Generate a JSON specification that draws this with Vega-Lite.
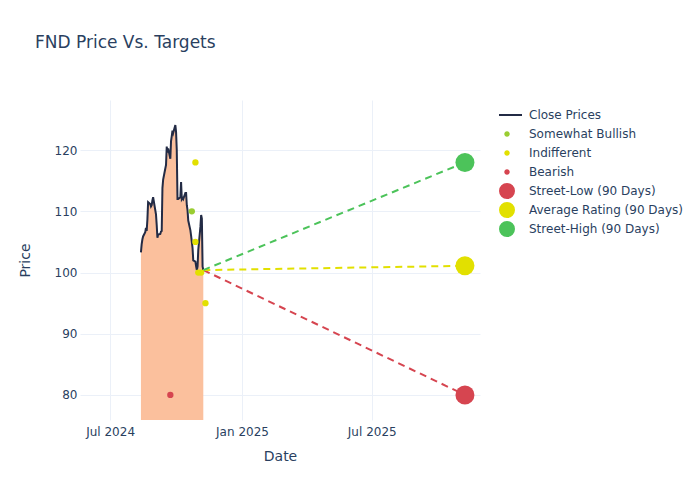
{
  "$schema": "https://vega.github.io/schema/vega-lite/v6.json",
  "width": 400,
  "height": 320,
  "autosize": {"type": "none"},
  "padding": {"left": 80, "top": 100, "right": 220, "bottom": 80},
  "background": "white",
  "title": {
    "text": "FND Price Vs. Targets",
    "anchor": "start",
    "frame": "group",
    "dx": -45,
    "offset": 48,
    "fontSize": 17,
    "fontWeight": "normal",
    "color": "#2a3f5f",
    "font": "DejaVu Sans"
  },
  "datasets": {
    "prices": [
      {"date": "2024-08-13", "close": 103.3, "series": "Close Prices"},
      {"date": "2024-08-14", "close": 104.6, "series": "Close Prices"},
      {"date": "2024-08-15", "close": 105.4, "series": "Close Prices"},
      {"date": "2024-08-16", "close": 105.9, "series": "Close Prices"},
      {"date": "2024-08-19", "close": 106.6, "series": "Close Prices"},
      {"date": "2024-08-20", "close": 107.3, "series": "Close Prices"},
      {"date": "2024-08-21", "close": 106.8, "series": "Close Prices"},
      {"date": "2024-08-22", "close": 108.6, "series": "Close Prices"},
      {"date": "2024-08-23", "close": 111.5, "series": "Close Prices"},
      {"date": "2024-08-26", "close": 111.2, "series": "Close Prices"},
      {"date": "2024-08-27", "close": 110.8, "series": "Close Prices"},
      {"date": "2024-08-28", "close": 111.0, "series": "Close Prices"},
      {"date": "2024-08-29", "close": 111.8, "series": "Close Prices"},
      {"date": "2024-08-30", "close": 112.3, "series": "Close Prices"},
      {"date": "2024-09-03", "close": 109.5, "series": "Close Prices"},
      {"date": "2024-09-04", "close": 107.8, "series": "Close Prices"},
      {"date": "2024-09-05", "close": 105.7, "series": "Close Prices"},
      {"date": "2024-09-06", "close": 106.2, "series": "Close Prices"},
      {"date": "2024-09-09", "close": 106.3, "series": "Close Prices"},
      {"date": "2024-09-10", "close": 106.7, "series": "Close Prices"},
      {"date": "2024-09-11", "close": 106.8, "series": "Close Prices"},
      {"date": "2024-09-12", "close": 113.8, "series": "Close Prices"},
      {"date": "2024-09-13", "close": 115.2, "series": "Close Prices"},
      {"date": "2024-09-16", "close": 117.0, "series": "Close Prices"},
      {"date": "2024-09-17", "close": 117.6, "series": "Close Prices"},
      {"date": "2024-09-18", "close": 120.6, "series": "Close Prices"},
      {"date": "2024-09-19", "close": 119.6, "series": "Close Prices"},
      {"date": "2024-09-20", "close": 120.3, "series": "Close Prices"},
      {"date": "2024-09-23", "close": 118.6, "series": "Close Prices"},
      {"date": "2024-09-24", "close": 121.5, "series": "Close Prices"},
      {"date": "2024-09-25", "close": 122.3, "series": "Close Prices"},
      {"date": "2024-09-26", "close": 123.2, "series": "Close Prices"},
      {"date": "2024-09-27", "close": 122.8, "series": "Close Prices"},
      {"date": "2024-09-30", "close": 124.1, "series": "Close Prices"},
      {"date": "2024-10-01", "close": 123.0, "series": "Close Prices"},
      {"date": "2024-10-02", "close": 120.0, "series": "Close Prices"},
      {"date": "2024-10-03", "close": 112.0, "series": "Close Prices"},
      {"date": "2024-10-04", "close": 112.0, "series": "Close Prices"},
      {"date": "2024-10-07", "close": 112.3, "series": "Close Prices"},
      {"date": "2024-10-08", "close": 114.8, "series": "Close Prices"},
      {"date": "2024-10-09", "close": 112.0, "series": "Close Prices"},
      {"date": "2024-10-10", "close": 112.2, "series": "Close Prices"},
      {"date": "2024-10-11", "close": 112.0, "series": "Close Prices"},
      {"date": "2024-10-14", "close": 113.0, "series": "Close Prices"},
      {"date": "2024-10-15", "close": 113.0, "series": "Close Prices"},
      {"date": "2024-10-16", "close": 111.0, "series": "Close Prices"},
      {"date": "2024-10-17", "close": 110.2, "series": "Close Prices"},
      {"date": "2024-10-18", "close": 108.5, "series": "Close Prices"},
      {"date": "2024-10-21", "close": 106.9, "series": "Close Prices"},
      {"date": "2024-10-22", "close": 106.0, "series": "Close Prices"},
      {"date": "2024-10-23", "close": 105.0, "series": "Close Prices"},
      {"date": "2024-10-24", "close": 104.0, "series": "Close Prices"},
      {"date": "2024-10-25", "close": 102.0, "series": "Close Prices"},
      {"date": "2024-10-28", "close": 101.8, "series": "Close Prices"},
      {"date": "2024-10-29", "close": 101.0, "series": "Close Prices"},
      {"date": "2024-10-30", "close": 100.4, "series": "Close Prices"},
      {"date": "2024-10-31", "close": 101.0, "series": "Close Prices"},
      {"date": "2024-11-01", "close": 103.7, "series": "Close Prices"},
      {"date": "2024-11-04", "close": 107.5, "series": "Close Prices"},
      {"date": "2024-11-05", "close": 109.4, "series": "Close Prices"},
      {"date": "2024-11-06", "close": 108.8, "series": "Close Prices"},
      {"date": "2024-11-07", "close": 101.0, "series": "Close Prices"},
      {"date": "2024-11-08", "close": 100.4, "series": "Close Prices"}
    ],
    "ratings": [
      {"date": "2024-09-23", "price": 80, "label": "Bearish"},
      {"date": "2024-10-23", "price": 110, "label": "Somewhat Bullish"},
      {"date": "2024-10-28", "price": 118, "label": "Indifferent"},
      {"date": "2024-10-28", "price": 105, "label": "Indifferent"},
      {"date": "2024-11-01", "price": 100, "label": "Indifferent"},
      {"date": "2024-11-05", "price": 100, "label": "Indifferent"},
      {"date": "2024-11-11", "price": 95, "label": "Indifferent"}
    ],
    "targetLines": [
      {"date": "2024-11-08", "price": 100.4, "label": "Street-Low (90 Days)"},
      {"date": "2025-11-08", "price": 80, "label": "Street-Low (90 Days)"},
      {"date": "2024-11-08", "price": 100.4, "label": "Average Rating (90 Days)"},
      {"date": "2025-11-08", "price": 101.1, "label": "Average Rating (90 Days)"},
      {"date": "2024-11-08", "price": 100.4, "label": "Street-High (90 Days)"},
      {"date": "2025-11-08", "price": 118, "label": "Street-High (90 Days)"}
    ],
    "targets": [
      {"date": "2025-11-08", "price": 80, "label": "Street-Low (90 Days)"},
      {"date": "2025-11-08", "price": 101.1, "label": "Average Rating (90 Days)"},
      {"date": "2025-11-08", "price": 118, "label": "Street-High (90 Days)"}
    ]
  },
  "layer": [
    {
      "data": {"name": "prices"},
      "mark": {"type": "area", "color": "#FBC09D", "opacity": 1, "clip": true},
      "encoding": {
        "x": {"field": "date", "type": "temporal"},
        "y": {"field": "close", "type": "quantitative"}
      }
    },
    {
      "data": {"name": "prices"},
      "mark": {"type": "line", "strokeWidth": 2, "clip": true},
      "encoding": {
        "x": {"field": "date", "type": "temporal"},
        "y": {"field": "close", "type": "quantitative"},
        "color": {"field": "series", "type": "nominal"}
      }
    },
    {
      "data": {"name": "targetLines"},
      "mark": {"type": "line", "strokeWidth": 2, "strokeDash": [7, 5], "clip": true},
      "encoding": {
        "x": {"field": "date", "type": "temporal"},
        "y": {"field": "price", "type": "quantitative"},
        "color": {"field": "label", "type": "nominal"},
        "detail": {"field": "label"}
      }
    },
    {
      "data": {"name": "ratings"},
      "mark": {"type": "point", "filled": true, "opacity": 1, "size": 40, "clip": true},
      "encoding": {
        "x": {"field": "date", "type": "temporal"},
        "y": {"field": "price", "type": "quantitative"},
        "color": {"field": "label", "type": "nominal"},
        "shape": {"field": "label", "type": "nominal"}
      }
    },
    {
      "data": {"name": "targets"},
      "mark": {"type": "point", "filled": true, "opacity": 1, "size": 361, "clip": true},
      "encoding": {
        "x": {"field": "date", "type": "temporal"},
        "y": {"field": "price", "type": "quantitative"},
        "color": {"field": "label", "type": "nominal"},
        "shape": {"field": "label", "type": "nominal"}
      }
    }
  ],
  "encoding": {
    "x": {
      "field": "date",
      "type": "temporal",
      "title": "Date",
      "scale": {"type": "utc", "domain": [{"year": 2024, "month": 5, "date": 20, "utc": true}, {"year": 2025, "month": 11, "date": 29, "utc": true}]},
      "axis": {
        "values": [{"year": 2024, "month": 7, "date": 1, "utc": true}, {"year": 2025, "month": 1, "date": 1, "utc": true}, {"year": 2025, "month": 7, "date": 1, "utc": true}],
        "format": "%b %Y",
        "labelPadding": 6,
        "titlePadding": 12
      }
    },
    "y": {
      "type": "quantitative",
      "title": "Price",
      "scale": {"domain": [75.9, 128.2], "nice": false, "zero": false},
      "axis": {"values": [80, 90, 100, 110, 120], "labelPadding": 3, "titlePadding": 22}
    },
    "color": {
      "type": "nominal",
      "title": null,
      "scale": {
        "domain": ["Close Prices", "Somewhat Bullish", "Indifferent", "Bearish", "Street-Low (90 Days)", "Average Rating (90 Days)", "Street-High (90 Days)"],
        "range": ["#232b45", "#9acd32", "#e2e000", "#d64550", "#d64550", "#e2e000", "#4cc35a"]
      },
      "legend": {
        "symbolSize": 289,
        "clipHeight": 17,
        "encode": {
          "symbols": {
            "update": {
              "size": {"signal": "datum.value == 'Close Prices' ? 225 : (datum.value == 'Somewhat Bullish' || datum.value == 'Indifferent' || datum.value == 'Bearish') ? 12 : 196"}
            }
          }
        }
      }
    },
    "shape": {
      "type": "nominal",
      "title": null,
      "scale": {
        "domain": ["Close Prices", "Somewhat Bullish", "Indifferent", "Bearish", "Street-Low (90 Days)", "Average Rating (90 Days)", "Street-High (90 Days)"],
        "range": ["M-2,0H2", "circle", "circle", "circle", "circle", "circle", "circle"]
      },
      "legend": {
        "symbolSize": 289,
        "clipHeight": 17,
        "encode": {
          "symbols": {
            "update": {
              "size": {"signal": "datum.value == 'Close Prices' ? 225 : (datum.value == 'Somewhat Bullish' || datum.value == 'Indifferent' || datum.value == 'Bearish') ? 12 : 196"}
            }
          }
        }
      }
    }
  },
  "config": {
    "font": "DejaVu Sans",
    "view": {"stroke": null},
    "axis": {
      "grid": true,
      "gridColor": "#EBF0F8",
      "gridWidth": 1,
      "domain": false,
      "ticks": false,
      "labelColor": "#2a3f5f",
      "labelFontSize": 12,
      "titleColor": "#2a3f5f",
      "titleFontSize": 14,
      "titleFontWeight": "normal"
    },
    "legend": {
      "orient": "none",
      "legendX": 419,
      "legendY": 6.5,
      "labelColor": "#2a3f5f",
      "labelFontSize": 12,
      "labelOffset": 14,
      "rowPadding": 2,
      "padding": 0,
      "symbolStrokeWidth": 2,
      "labelLimit": 300
    }
  }
}
